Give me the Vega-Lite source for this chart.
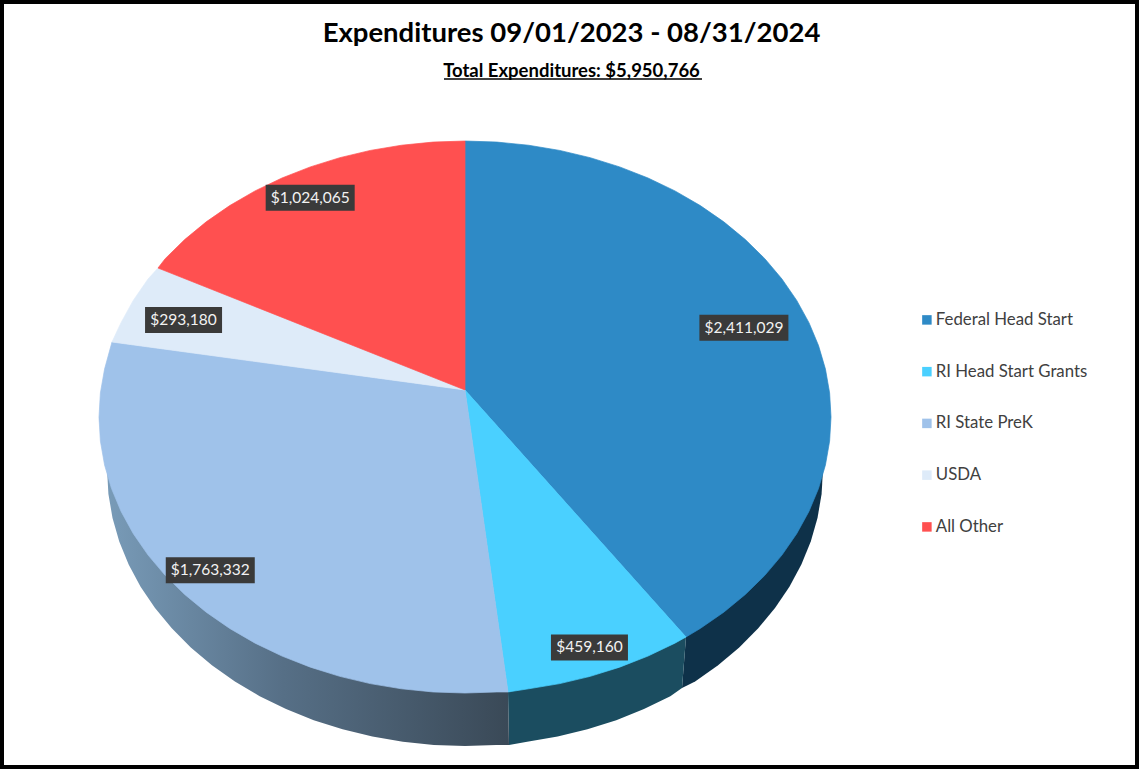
{"$schema":"https://vega.github.io/schema/vega-lite/v6.json","width":1139,"height":769,"padding":0,"autosize":"none","background":"#ffffff","config":{"view":{"stroke":"#000000","strokeWidth":8}},
"title":{"text":"Expenditures  09/01/2023  -  08/31/2024","subtitle":"Total Expenditures: $5,950,766","anchor":"middle","frame":"group","dx":2,"offset":-80,"font":"Lato","fontSize":27.5,"fontWeight":"bold","color":"#000000","subtitleFont":"Lato","subtitleFontSize":18.5,"subtitleFontWeight":"bold","subtitleColor":"#000000","subtitlePadding":14},
"datasets":{
"top":[
{"slice":"Federal Head Start","seq":0,"x":0,"y":0},{"slice":"Federal Head Start","seq":1,"x":0,"y":68.03},{"slice":"Federal Head Start","seq":2,"x":8.72,"y":67.74},{"slice":"Federal Head Start","seq":3,"x":17.36,"y":66.88},{"slice":"Federal Head Start","seq":4,"x":25.88,"y":65.46},{"slice":"Federal Head Start","seq":5,"x":34.2,"y":63.48},{"slice":"Federal Head Start","seq":6,"x":42.26,"y":60.96},{"slice":"Federal Head Start","seq":7,"x":50,"y":57.93},{"slice":"Federal Head Start","seq":8,"x":57.36,"y":54.4},{"slice":"Federal Head Start","seq":9,"x":64.28,"y":50.39},{"slice":"Federal Head Start","seq":10,"x":70.71,"y":45.94},{"slice":"Federal Head Start","seq":11,"x":76.6,"y":41.09},{"slice":"Federal Head Start","seq":12,"x":81.92,"y":35.88},{"slice":"Federal Head Start","seq":13,"x":86.6,"y":30.33},{"slice":"Federal Head Start","seq":14,"x":90.63,"y":24.49},{"slice":"Federal Head Start","seq":15,"x":93.97,"y":18.41},{"slice":"Federal Head Start","seq":16,"x":96.59,"y":12.14},{"slice":"Federal Head Start","seq":17,"x":98.48,"y":5.71},{"slice":"Federal Head Start","seq":18,"x":99.62,"y":-0.8},{"slice":"Federal Head Start","seq":19,"x":100,"y":-7.38},{"slice":"Federal Head Start","seq":20,"x":99.62,"y":-13.96},{"slice":"Federal Head Start","seq":21,"x":98.48,"y":-20.47},{"slice":"Federal Head Start","seq":22,"x":96.59,"y":-26.9},{"slice":"Federal Head Start","seq":23,"x":93.97,"y":-33.17},{"slice":"Federal Head Start","seq":24,"x":90.63,"y":-39.25},{"slice":"Federal Head Start","seq":25,"x":86.6,"y":-45.09},{"slice":"Federal Head Start","seq":26,"x":81.92,"y":-50.64},{"slice":"Federal Head Start","seq":27,"x":76.6,"y":-55.85},{"slice":"Federal Head Start","seq":28,"x":70.71,"y":-60.7},{"slice":"Federal Head Start","seq":29,"x":64.28,"y":-65.15},{"slice":"Federal Head Start","seq":30,"x":60.38,"y":-67.49},{"slice":"Federal Head Start","seq":31,"x":0,"y":0},
{"slice":"RI Head Start Grants","seq":0,"x":0,"y":0},{"slice":"RI Head Start Grants","seq":1,"x":60.38,"y":-67.49},{"slice":"RI Head Start Grants","seq":2,"x":57.36,"y":-69.16},{"slice":"RI Head Start Grants","seq":3,"x":50,"y":-72.69},{"slice":"RI Head Start Grants","seq":4,"x":42.26,"y":-75.72},{"slice":"RI Head Start Grants","seq":5,"x":34.2,"y":-78.24},{"slice":"RI Head Start Grants","seq":6,"x":25.88,"y":-80.22},{"slice":"RI Head Start Grants","seq":7,"x":17.36,"y":-81.64},{"slice":"RI Head Start Grants","seq":8,"x":11.75,"y":-82.51},{"slice":"RI Head Start Grants","seq":9,"x":0,"y":0},
{"slice":"RI State PreK","seq":0,"x":0,"y":0},{"slice":"RI State PreK","seq":1,"x":11.75,"y":-82.51},{"slice":"RI State PreK","seq":2,"x":8.72,"y":-82.5},{"slice":"RI State PreK","seq":3,"x":0,"y":-82.79},{"slice":"RI State PreK","seq":4,"x":-8.72,"y":-82.5},{"slice":"RI State PreK","seq":5,"x":-17.36,"y":-81.64},{"slice":"RI State PreK","seq":6,"x":-25.88,"y":-80.22},{"slice":"RI State PreK","seq":7,"x":-34.2,"y":-78.24},{"slice":"RI State PreK","seq":8,"x":-42.26,"y":-75.72},{"slice":"RI State PreK","seq":9,"x":-50,"y":-72.69},{"slice":"RI State PreK","seq":10,"x":-57.36,"y":-69.16},{"slice":"RI State PreK","seq":11,"x":-64.28,"y":-65.15},{"slice":"RI State PreK","seq":12,"x":-70.71,"y":-60.7},{"slice":"RI State PreK","seq":13,"x":-76.6,"y":-55.85},{"slice":"RI State PreK","seq":14,"x":-81.92,"y":-50.64},{"slice":"RI State PreK","seq":15,"x":-86.6,"y":-45.09},{"slice":"RI State PreK","seq":16,"x":-90.63,"y":-39.25},{"slice":"RI State PreK","seq":17,"x":-93.97,"y":-33.17},{"slice":"RI State PreK","seq":18,"x":-96.59,"y":-26.9},{"slice":"RI State PreK","seq":19,"x":-98.48,"y":-20.47},{"slice":"RI State PreK","seq":20,"x":-99.62,"y":-13.96},{"slice":"RI State PreK","seq":21,"x":-100,"y":-7.38},{"slice":"RI State PreK","seq":22,"x":-99.62,"y":-0.8},{"slice":"RI State PreK","seq":23,"x":-98.48,"y":5.71},{"slice":"RI State PreK","seq":24,"x":-96.45,"y":13.11},{"slice":"RI State PreK","seq":25,"x":0,"y":0},
{"slice":"USDA","seq":0,"x":0,"y":0},{"slice":"USDA","seq":1,"x":-96.45,"y":13.11},{"slice":"USDA","seq":2,"x":-93.97,"y":18.41},{"slice":"USDA","seq":3,"x":-90.63,"y":24.49},{"slice":"USDA","seq":4,"x":-86.6,"y":30.33},{"slice":"USDA","seq":5,"x":-83.88,"y":33.33},{"slice":"USDA","seq":6,"x":0,"y":0},
{"slice":"All Other","seq":0,"x":0,"y":0},{"slice":"All Other","seq":1,"x":-83.88,"y":33.33},{"slice":"All Other","seq":2,"x":-81.92,"y":35.88},{"slice":"All Other","seq":3,"x":-76.6,"y":41.09},{"slice":"All Other","seq":4,"x":-70.71,"y":45.94},{"slice":"All Other","seq":5,"x":-64.28,"y":50.39},{"slice":"All Other","seq":6,"x":-57.36,"y":54.4},{"slice":"All Other","seq":7,"x":-50,"y":57.93},{"slice":"All Other","seq":8,"x":-42.26,"y":60.96},{"slice":"All Other","seq":9,"x":-34.2,"y":63.48},{"slice":"All Other","seq":10,"x":-25.88,"y":65.46},{"slice":"All Other","seq":11,"x":-17.36,"y":66.88},{"slice":"All Other","seq":12,"x":-8.72,"y":67.74},{"slice":"All Other","seq":13,"x":0,"y":68.03},{"slice":"All Other","seq":14,"x":0,"y":0}
],
"wall":[
{"slice":"Federal Head Start","seq":0,"x":60.38,"y":-67.49},{"slice":"Federal Head Start","seq":1,"x":59.29,"y":-81.42},{"slice":"Federal Head Start","seq":2,"x":62.87,"y":-79.63},{"slice":"Federal Head Start","seq":3,"x":69.15,"y":-75.17},{"slice":"Federal Head Start","seq":4,"x":74.92,"y":-70.33},{"slice":"Federal Head Start","seq":5,"x":80.11,"y":-65.12},{"slice":"Federal Head Start","seq":6,"x":84.7,"y":-59.57},{"slice":"Federal Head Start","seq":7,"x":88.64,"y":-53.73},{"slice":"Federal Head Start","seq":8,"x":91.9,"y":-47.65},{"slice":"Federal Head Start","seq":9,"x":94.47,"y":-41.38},{"slice":"Federal Head Start","seq":10,"x":96.31,"y":-34.95},{"slice":"Federal Head Start","seq":11,"x":97.43,"y":-28.43},{"slice":"Federal Head Start","seq":12,"x":97.8,"y":-21.86},{"slice":"Federal Head Start","seq":13,"x":60.38,"y":-67.49},
{"slice":"RI Head Start Grants","seq":0,"x":60.38,"y":-67.49},{"slice":"RI Head Start Grants","seq":1,"x":59.29,"y":-81.42},{"slice":"RI Head Start Grants","seq":2,"x":56.1,"y":-83.64},{"slice":"RI Head Start Grants","seq":3,"x":48.9,"y":-87.17},{"slice":"RI Head Start Grants","seq":4,"x":41.33,"y":-90.2},{"slice":"RI Head Start Grants","seq":5,"x":33.45,"y":-92.72},{"slice":"RI Head Start Grants","seq":6,"x":25.31,"y":-94.7},{"slice":"RI Head Start Grants","seq":7,"x":16.98,"y":-96.12},{"slice":"RI Head Start Grants","seq":8,"x":12.02,"y":-97},{"slice":"RI Head Start Grants","seq":9,"x":11.75,"y":-82.51},{"slice":"RI Head Start Grants","seq":10,"x":60.38,"y":-67.49},
{"slice":"RI State PreK","seq":0,"x":11.75,"y":-82.51},{"slice":"RI State PreK","seq":1,"x":12.02,"y":-97},{"slice":"RI State PreK","seq":2,"x":8.53,"y":-96.98},{"slice":"RI State PreK","seq":3,"x":0,"y":-97.27},{"slice":"RI State PreK","seq":4,"x":-8.53,"y":-96.98},{"slice":"RI State PreK","seq":5,"x":-16.98,"y":-96.12},{"slice":"RI State PreK","seq":6,"x":-25.31,"y":-94.7},{"slice":"RI State PreK","seq":7,"x":-33.45,"y":-92.72},{"slice":"RI State PreK","seq":8,"x":-41.33,"y":-90.2},{"slice":"RI State PreK","seq":9,"x":-48.9,"y":-87.17},{"slice":"RI State PreK","seq":10,"x":-56.1,"y":-83.64},{"slice":"RI State PreK","seq":11,"x":-62.87,"y":-79.63},{"slice":"RI State PreK","seq":12,"x":-69.15,"y":-75.17},{"slice":"RI State PreK","seq":13,"x":-74.92,"y":-70.33},{"slice":"RI State PreK","seq":14,"x":-80.11,"y":-65.12},{"slice":"RI State PreK","seq":15,"x":-84.7,"y":-59.57},{"slice":"RI State PreK","seq":16,"x":-88.64,"y":-53.73},{"slice":"RI State PreK","seq":17,"x":-91.9,"y":-47.65},{"slice":"RI State PreK","seq":18,"x":-94.47,"y":-41.38},{"slice":"RI State PreK","seq":19,"x":-96.31,"y":-34.95},{"slice":"RI State PreK","seq":20,"x":-97.43,"y":-28.43},{"slice":"RI State PreK","seq":21,"x":-97.8,"y":-21.86},{"slice":"RI State PreK","seq":22,"x":-100,"y":-7.38},{"slice":"RI State PreK","seq":23,"x":11.75,"y":-82.51}
],
"labels":[
{"slice":"Federal Head Start","value":2411029,"x":76.2,"y":17},
{"slice":"RI Head Start Grants","value":459160,"x":34,"y":-70.35},
{"slice":"RI State PreK","value":1763332,"x":-69.6,"y":-49.25},
{"slice":"USDA","value":293180,"x":-76.9,"y":19.15},
{"slice":"All Other","value":1024065,"x":-42.3,"y":52.55}
],
"underline":[{"x":-5.74,"x2":64.75,"y":84.97}]
},
"encoding":{
"x":{"field":"x","type":"quantitative","axis":null,"scale":{"domain":[-127.05,184.15],"nice":false,"zero":false}},
"y":{"field":"y","type":"quantitative","axis":null,"scale":{"domain":[-103.55,106.56],"nice":false,"zero":false}}
},
"layer":[
{"data":{"name":"wall"},"transform":[{"filter":"datum.slice==='Federal Head Start'"}],"mark":{"type":"line","fill":"#0e3149","strokeWidth":0},"encoding":{"order":{"field":"seq"}}},
{"data":{"name":"wall"},"transform":[{"filter":"datum.slice==='RI Head Start Grants'"}],"mark":{"type":"line","fill":"#1b4d60","strokeWidth":0},"encoding":{"order":{"field":"seq"}}},
{"data":{"name":"wall"},"transform":[{"filter":"datum.slice==='RI State PreK'"}],"mark":{"type":"line","strokeWidth":0,"fill":{"gradient":"linear","x1":0,"y1":0,"x2":1,"y2":0,"stops":[{"offset":0,"color":"#7a9dba"},{"offset":0.45,"color":"#566f86"},{"offset":1,"color":"#3a4957"}]}},"encoding":{"order":{"field":"seq"}}},
{"data":{"name":"top"},"mark":{"type":"line","strokeWidth":0.7},"encoding":{"order":{"field":"seq"},"stroke":{"field":"slice","type":"nominal","scale":{"domain":["Federal Head Start","RI Head Start Grants","RI State PreK","USDA","All Other"],"range":["#2e8ac6","#4ad0ff","#9fc2ea","#deebf9","#ff5050"]},"legend":null},"fill":{"field":"slice","type":"nominal","scale":{"domain":["Federal Head Start","RI Head Start Grants","RI State PreK","USDA","All Other"],"range":["#2e8ac6","#4ad0ff","#9fc2ea","#deebf9","#ff5050"]},"legend":{"title":null,"orient":"none","legendX":918.5,"legendY":311.5,"symbolType":"square","symbolSize":90,"symbolStrokeWidth":0,"labelFont":"Lato","labelFontSize":16.8,"labelColor":"#404040","labelOffset":0.5,"rowPadding":33.75,"labelLimit":200}}}},
{"data":{"name":"underline"},"mark":{"type":"rule","color":"#000000","strokeWidth":1.5},"encoding":{"x2":{"field":"x2"}}},
{"data":{"name":"labels"},"transform":[{"filter":"datum.value>=1000000"}],"mark":{"type":"rect","width":89,"height":26,"color":"#3a3a3a"},"encoding":{}},
{"data":{"name":"labels"},"transform":[{"filter":"datum.value<1000000"}],"mark":{"type":"rect","width":77,"height":26,"color":"#3a3a3a"},"encoding":{}},
{"data":{"name":"labels"},"mark":{"type":"text","font":"Lato","fontSize":15.5,"color":"#f2f2f2","align":"center","baseline":"middle"},"encoding":{"text":{"field":"value","type":"quantitative","format":"$,.0f"}}}
]}
